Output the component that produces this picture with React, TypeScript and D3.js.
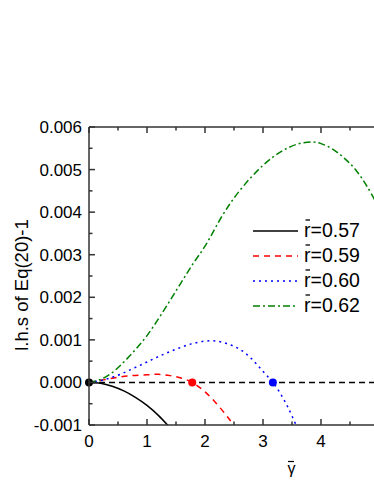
import React from "react";
import * as d3 from "d3";

const xTicks = [0, 1, 2, 3, 4];
const yTicks = [-0.001, 0, 0.001, 0.002, 0.003, 0.004, 0.005, 0.006];
const yTickLabels = ["-0.001", "0.000", "0.001", "0.002", "0.003", "0.004", "0.005", "0.006"];

const g057x = [0, 0.2, 0.4, 0.6, 0.8, 1.0, 1.2, 1.4];
const g057y = [0, -0.00002, -0.00009, -0.0002, -0.00035, -0.00054, -0.00078, -0.00107];

const g059x = [0, 0.25, 0.5, 0.75, 1.0, 1.2, 1.4, 1.6, 1.78, 2.0, 2.2, 2.4, 2.55];
const g059y = [0, 0.00006, 0.00012, 0.00016, 0.00018, 0.00019, 0.00016, 0.0001, 0, -0.00022, -0.0005, -0.00083, -0.0011];

const g060x = [0, 0.25, 0.5, 0.75, 1.0, 1.25, 1.5, 1.75, 2.0, 2.2, 2.4, 2.6, 2.8, 3.0, 3.17, 3.3, 3.45, 3.6];
const g060y = [0, 0.00006, 0.00017, 0.00032, 0.00048, 0.00064, 0.00078, 0.0009, 0.00097, 0.00097, 0.0009, 0.00078, 0.00056, 0.00026, 0, -0.00026, -0.00064, -0.0011];

const g062x = [0, 0.2, 0.4, 0.6, 0.8, 1.0, 1.2, 1.4, 1.6, 1.8, 2.0, 2.3, 2.5, 2.75, 3.0, 3.2, 3.4, 3.6, 3.84, 4.0, 4.2, 4.4, 4.6, 4.8, 5.0];
const g062y = [0, 0.00007, 0.00023, 0.00048, 0.00077, 0.0011, 0.0015, 0.00193, 0.00237, 0.0028, 0.0032, 0.00392, 0.00433, 0.00475, 0.0051, 0.00532, 0.00549, 0.0056, 0.00565, 0.00561, 0.00548, 0.00527, 0.00499, 0.00459, 0.0041];

const seriesNames = ["0.57", "0.59", "0.60", "0.62"];
const seriesColors = ["#000000", "#ff0000", "#0000ff", "#008000"];
const seriesDash = ["", "6,5", "2,4", "7,3,2,3"];
const seriesX = [g057x, g059x, g060x, g062x];
const seriesY = [g057y, g059y, g060y, g062y];

const rootsX = [0, 1.78, 3.17];
const rootsColors = ["#000000", "#ff0000", "#0000ff"];

export default function App() {
  const left = 89, right = 379, top = 127, bottom = 425;
  const x = d3.scaleLinear().domain([0, 5]).range([left, right]);
  const y = d3.scaleLinear().domain([-0.001, 0.006]).range([bottom, top]);
  const line = d3
    .line<[number, number]>()
    .x((d) => x(d[0]))
    .y((d) => y(d[1]))
    .curve(d3.curveCatmullRom.alpha(0.5));

  const minorX = d3.range(0, 5.01, 0.5);
  const minorY = d3.range(-0.001, 0.00601, 0.0005);
  const axisColor = "#333";
  const font = "Liberation Sans, Arial, sans-serif";

  return (
    <svg
      width={374}
      height={484}
      style={{ position: "absolute", left: 0, top: 0, background: "#fff" }}
    >
      <defs>
        <clipPath id="plot">
          <rect x={left} y={top} width={right - left} height={bottom - top} />
        </clipPath>
      </defs>
      <g clipPath="url(#plot)">
        <line x1={x(0)} x2={x(5)} y1={y(0)} y2={y(0)} stroke="#000" strokeWidth={1.5} strokeDasharray="6,4" />
        {seriesNames.map((n, i) => (
          <path
            key={n}
            d={line(seriesX[i].map((v, j) => [v, seriesY[i][j]] as [number, number])) || ""}
            fill="none"
            stroke={seriesColors[i]}
            strokeWidth={1.5}
            strokeDasharray={seriesDash[i] || undefined}
          />
        ))}
      </g>
      {rootsX.map((r, i) => (
        <circle key={i} cx={x(r)} cy={y(0)} r={4} fill={rootsColors[i]} />
      ))}
      {/* frame */}
      <line x1={left} x2={left} y1={top} y2={bottom} stroke={axisColor} strokeWidth={1.5} />
      <line x1={left} x2={right} y1={top} y2={top} stroke={axisColor} strokeWidth={1.5} />
      <line x1={left} x2={right} y1={bottom} y2={bottom} stroke={axisColor} strokeWidth={1.5} />
      <line x1={right} x2={right} y1={top} y2={bottom} stroke={axisColor} strokeWidth={1.5} />
      {/* x ticks */}
      {minorX.map((v, i) => {
        const major = Math.abs(v - Math.round(v)) < 1e-9;
        const len = major ? 6 : 3.5;
        return (
          <g key={"xt" + i}>
            <line x1={x(v)} x2={x(v)} y1={bottom} y2={bottom - len} stroke={axisColor} strokeWidth={1.5} />
            <line x1={x(v)} x2={x(v)} y1={top} y2={top + len} stroke={axisColor} strokeWidth={1.5} />
          </g>
        );
      })}
      {minorY.map((v, i) => {
        const major = i % 2 === 0;
        const len = major ? 6 : 3.5;
        return <line key={"yt" + i} x1={left} x2={left + len} y1={y(v)} y2={y(v)} stroke={axisColor} strokeWidth={1.5} />;
      })}
      {xTicks.map((v) => (
        <text key={"xl" + v} x={x(v)} y={447} textAnchor="middle" fontFamily={font} fontSize={17} fill="#000">
          {v}
        </text>
      ))}
      {yTicks.map((v, i) => (
        <text key={"yl" + i} x={82} y={y(v) + 6} textAnchor="end" fontFamily={font} fontSize={17} fill="#000">
          {yTickLabels[i]}
        </text>
      ))}
      <text
        transform={`translate(28,285) rotate(-90)`}
        textAnchor="middle"
        fontFamily={font}
        fontSize={18.5}
        fill="#000"
      >
        l.h.s of Eq(20)-1
      </text>
      <text x={291.5} y={474} textAnchor="middle" fontFamily={font} fontSize={16} fill="#000">
        γ
      </text>
      <line x1={288} x2={294} y1={461.5} y2={461.5} stroke="#000" strokeWidth={1.2} />
      {/* legend */}
      {seriesNames.map((n, i) => {
        const ly = 231 + i * 25;
        return (
          <g key={"lg" + n}>
            <line x1={253} x2={298} y1={ly} y2={ly} stroke={seriesColors[i]} strokeWidth={1.5} strokeDasharray={seriesDash[i] || undefined} />
            <text x={304} y={ly + 6} fontFamily={font} fontSize={19.5} fill="#000">
              r=
              {n}
            </text>
            <line x1={305.5} x2={310} y1={ly - 11} y2={ly - 11} stroke="#000" strokeWidth={1.3} />
          </g>
        );
      })}
    </svg>
  );
}
